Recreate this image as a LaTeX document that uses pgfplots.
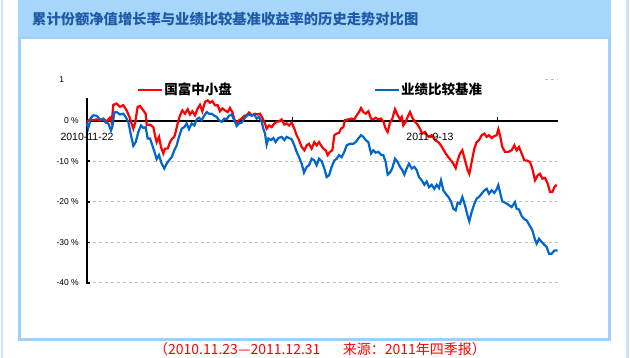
\documentclass[border=0pt]{standalone}
\usepackage{pgfplots}
\pgfplotsset{compat=1.18}
\usepackage{fontspec}
\setmainfont{Liberation Sans}
\newfontfamily\cjk{Noto Sans CJK SC}
\definecolor{hdr}{RGB}{166,214,250}
\definecolor{bdr}{RGB}{160,208,245}
\definecolor{ttl}{RGB}{30,90,168}
\definecolor{outerc}{RGB}{205,228,248}
\definecolor{lblue}{RGB}{0,102,204}
\definecolor{lred}{RGB}{255,0,0}
\definecolor{grd}{RGB}{190,190,190}
\begin{document}
\begin{tikzpicture}
\path[use as bounding box, fill=white] (0,0) rectangle (630bp,358bp);
\fill[outerc] (1bp,0) rectangle (3bp,358bp);
\fill[outerc] (626bp,0) rectangle (629bp,358bp);
\fill[hdr] (18bp,320bp) rectangle (611bp,358bp);
\draw[bdr, line width=2.5bp] (19.25bp,18.5bp) rectangle (609.6bp,320bp);
\node[anchor=west, inner sep=0pt, text=ttl, font={\fontsize{14.3bp}{16bp}\selectfont\cjk\bfseries}] at (32bp,338.5bp) {累计份额净值增长率与业绩比较基准收益率的历史走势对比图};
\node[inner sep=0pt, text=lred, font={\fontsize{14bp}{16bp}\selectfont\cjk}] at (320bp,9bp) {（2010.11.23—2011.12.31\hspace*{1.6em}来源：2011年四季报）};
\begin{axis}[
  at={(87bp,75bp)}, anchor=south west,
  scale only axis, width=471bp, height=203bp,
  xmin=6, xmax=1419, ymin=-40, ymax=10,
  clip=false,
  axis line style={draw=none},
  xtick=\empty,
  ytick={-40,-30,-20,-10,0},
  yticklabels={-40 \%,-30 \%,-20 \%,-10 \%,0 \%},
  extra y ticks={10}, extra y tick labels={1\phantom{0 \%}},
  extra y tick style={major tick length=0pt, grid=none},
  ytick pos=left, tick align=inside,
  major tick length=3bp,
  every tick/.style={black, line width=1.5bp},
  yticklabel style={font=\fontsize{8.5bp}{10bp}\selectfont, inner sep=0pt, xshift=-8bp},
  ymajorgrids, grid style={grd, line width=1bp, dash pattern=on 3bp off 3bp},
  legend columns=2,
  legend style={at={(axis cs:156,7.6)}, anchor=west, draw=none, fill=none, inner sep=0pt,
    nodes={inner sep=1bp}, font={\fontsize{13.5bp}{15bp}\selectfont\cjk\bfseries}},
  legend image code/.code={\draw[#1] (0bp,0bp) -- (24bp,0bp);},
]
\draw[grd, line width=1bp, dash pattern=on 3bp off 3bp] (axis cs:1380,10) -- (axis cs:1419,10);
\draw[black, line width=2bp] (axis cs:6,0) -- (axis cs:1419,0);
\draw[black, line width=1.5bp] (axis cs:622,0) -- (axis cs:622,0.8);
\draw[black, line width=1.5bp] (axis cs:1237,0) -- (axis cs:1237,0.8);
\draw[black, line width=2.5bp] (axis cs:6,-40.2) -- (axis cs:6,5.6);
\addplot[lred, line width=2.2bp] coordinates {
(5,-0.3)(15,0.3)(25,0.1)(35,0.3)(45,0)(55,0.5)(65,-0.2)(75,0.7)(80,-0.5)(85,3.9)(95,4.2)(105,3.4)(115,3.8)(125,2.5)(135,0.5)(145,-2.0)(150,-0.7)(158,3.4)(165,3.6)(175,2.5)(182,1.7)(185,-1.0)(195,-1.0)(205,-1.6)(210,-3.6)(215,-5.3)(222,-4.0)(228,-6.5)(235,-8.1)(240,-6.9)(248,-6.9)(255,-5.3)(262,-4.4)(268,-4.0)(272,-2.8)(278,-0.7)(285,1.3)(292,2.5)(300,1.7)(308,2.8)(315,1.5)(322,2.3)(330,1.3)(338,3.0)(345,3.9)(352,2.3)(360,4.6)(368,5.0)(375,4.4)(382,4.8)(390,3.8)(398,3.8)(405,2.3)(412,3.0)(420,2.5)(428,2.1)(435,3.1)(442,2.1)(448,0.3)(455,-0.7)(462,0.1)(470,0.5)(478,1.2)(485,1.3)(492,2.0)(500,1.3)(510,1.7)(518,1.5)(525,1.7)(532,0.7)(540,-0.7)(545,-2.0)(552,-1.2)(560,-1.6)(568,-0.7)(575,-0.3)(582,-0.2)(590,0.3)(598,-1.0)(605,-0.7)(612,-1.2)(620,-0.5)(628,-2.0)(635,-3.6)(642,-4.8)(650,-6.5)(658,-7.3)(665,-6.1)(672,-5.7)(680,-6.9)(688,-5.3)(695,-6.1)(702,-5.3)(708,-6.1)(715,-6.9)(722,-7.3)(728,-8.5)(735,-7.7)(742,-7.3)(748,-3.6)(755,-3.2)(762,-3.0)(768,-2.0)(775,-1.6)(780,0.1)(790,0.3)(800,0.5)(808,0.3)(815,1.3)(822,2.1)(828,3.1)(835,2.1)(842,1.7)(850,2.3)(858,0.5)(865,0.3)(872,0.7)(880,0.3)(888,0.5)(895,-0.2)(902,-2.0)(908,-2.8)(915,-0.5)(922,0.5)(930,2.8)(938,1.3)(945,0.3)(950,0.9)(955,-1.2)(962,-0.3)(970,1.3)(975,2.1)(982,0.7)(990,-0.3)(998,-1.0)(1005,-2.0)(1012,-3.2)(1020,-2.8)(1030,-4.0)(1040,-3.6)(1050,-4.8)(1060,-5.3)(1068,-6.1)(1075,-7.1)(1082,-8.1)(1090,-9.0)(1098,-9.8)(1105,-10.6)(1112,-11.7)(1118,-9.8)(1125,-8.1)(1132,-7.3)(1140,-9.8)(1148,-12.2)(1153,-13.1)(1160,-10.2)(1168,-6.9)(1175,-5.3)(1182,-4.8)(1190,-3.6)(1198,-3.2)(1205,-4.0)(1212,-3.6)(1220,-4.3)(1228,-3.8)(1235,-3.6)(1240,-2.1)(1245,-3.6)(1252,-6.5)(1260,-7.7)(1270,-7.7)(1280,-7.3)(1288,-6.1)(1295,-7.3)(1302,-6.5)(1310,-8.1)(1318,-9.8)(1325,-9.8)(1335,-10.2)(1342,-11.8)(1350,-14.7)(1358,-13.5)(1365,-13.1)(1372,-14.3)(1380,-14.1)(1388,-15.5)(1395,-17.6)(1402,-17.6)(1408,-16.4)(1415,-15.8)
};
\addlegendentry{国富中小盘\hspace*{141bp}}
\addplot[lblue, line width=2.2bp] coordinates {
(5,-0.5)(10,-1.8)(18,0.7)(25,1.3)(35,1.2)(45,0.3)(55,0.3)(62,-0.5)(70,-0.7)(78,-2.4)(82,-1.6)(88,2.0)(95,2.1)(105,1.5)(115,1.7)(122,0.9)(130,-0.3)(138,-3.6)(145,-6.2)(152,-5.3)(160,-2.8)(168,-1.2)(175,-1.8)(182,-1.6)(188,-4.4)(195,-4.4)(202,-6.1)(208,-7.6)(215,-9.5)(222,-8.5)(230,-10.6)(238,-11.8)(245,-10.6)(252,-9.8)(260,-9.0)(268,-7.3)(275,-6.1)(282,-4.0)(290,-2.0)(298,-1.6)(305,-0.7)(312,-2.1)(320,-0.7)(328,-1.2)(335,0.3)(342,0.7)(350,0.1)(358,1.3)(365,2.1)(372,1.7)(380,1.7)(388,1.2)(395,0.9)(402,0.1)(410,-0.3)(418,0.5)(425,0.3)(432,1.2)(440,1.5)(448,0.1)(455,-1.3)(462,-0.7)(470,-0.5)(478,0.5)(485,1.2)(492,1.5)(500,1.2)(508,1.5)(515,0.5)(522,0.9)(530,-0.3)(535,-2.0)(540,-3.2)(545,-5.9)(550,-4.4)(558,-4.8)(565,-4.3)(572,-5.3)(580,-4.3)(590,-4.0)(598,-4.8)(605,-4.0)(612,-4.3)(620,-4.6)(628,-6.1)(635,-7.7)(642,-9.0)(650,-10.6)(657,-12.8)(665,-11.4)(672,-11.0)(680,-9.4)(688,-9.8)(695,-11.0)(702,-9.4)(710,-10.0)(718,-11.8)(725,-13.9)(732,-13.5)(740,-11.4)(748,-9.8)(755,-9.4)(762,-8.5)(770,-9.0)(778,-7.7)(785,-6.1)(795,-5.7)(805,-5.7)(812,-5.3)(820,-4.4)(828,-3.6)(835,-4.0)(842,-4.8)(850,-5.3)(858,-8.1)(865,-7.3)(872,-7.9)(880,-7.7)(888,-8.4)(895,-8.5)(902,-10.2)(908,-13.3)(915,-12.8)(922,-11.7)(930,-9.4)(938,-10.2)(945,-11.4)(952,-12.2)(958,-13.3)(965,-11.8)(972,-10.6)(980,-11.8)(988,-11.4)(995,-12.2)(1002,-13.9)(1010,-14.7)(1018,-15.8)(1025,-15.0)(1032,-16.4)(1040,-15.8)(1048,-16.8)(1055,-15.8)(1062,-16.6)(1068,-14.7)(1075,-17.2)(1082,-18.0)(1090,-18.8)(1098,-19.9)(1105,-21.7)(1112,-22.1)(1118,-20.2)(1125,-20.5)(1132,-18.8)(1140,-20.9)(1148,-23.5)(1153,-24.8)(1160,-22.5)(1168,-20.5)(1175,-19.2)(1182,-18.8)(1190,-18.0)(1198,-17.2)(1205,-16.8)(1212,-18.0)(1220,-17.2)(1228,-17.8)(1235,-16.9)(1240,-15.9)(1245,-17.6)(1252,-19.9)(1260,-20.2)(1270,-20.7)(1280,-21.3)(1290,-20.1)(1295,-21.7)(1302,-21.9)(1310,-23.5)(1318,-24.3)(1325,-24.6)(1335,-26.0)(1342,-27.0)(1350,-29.3)(1355,-30.3)(1362,-29.1)(1370,-29.9)(1378,-30.6)(1385,-31.1)(1392,-32.8)(1400,-32.8)(1408,-32.0)(1418,-32.0)
};
\addlegendentry{业绩比较基准}
\node[font=\fontsize{10.5bp}{12bp}\selectfont, inner sep=0pt] at (axis cs:6,-3.9) {2010-11-22};
\node[font=\fontsize{10.5bp}{12bp}\selectfont, inner sep=0pt] at (axis cs:1035,-3.9) {2011-9-13};
\end{axis}
\end{tikzpicture}
\end{document}
